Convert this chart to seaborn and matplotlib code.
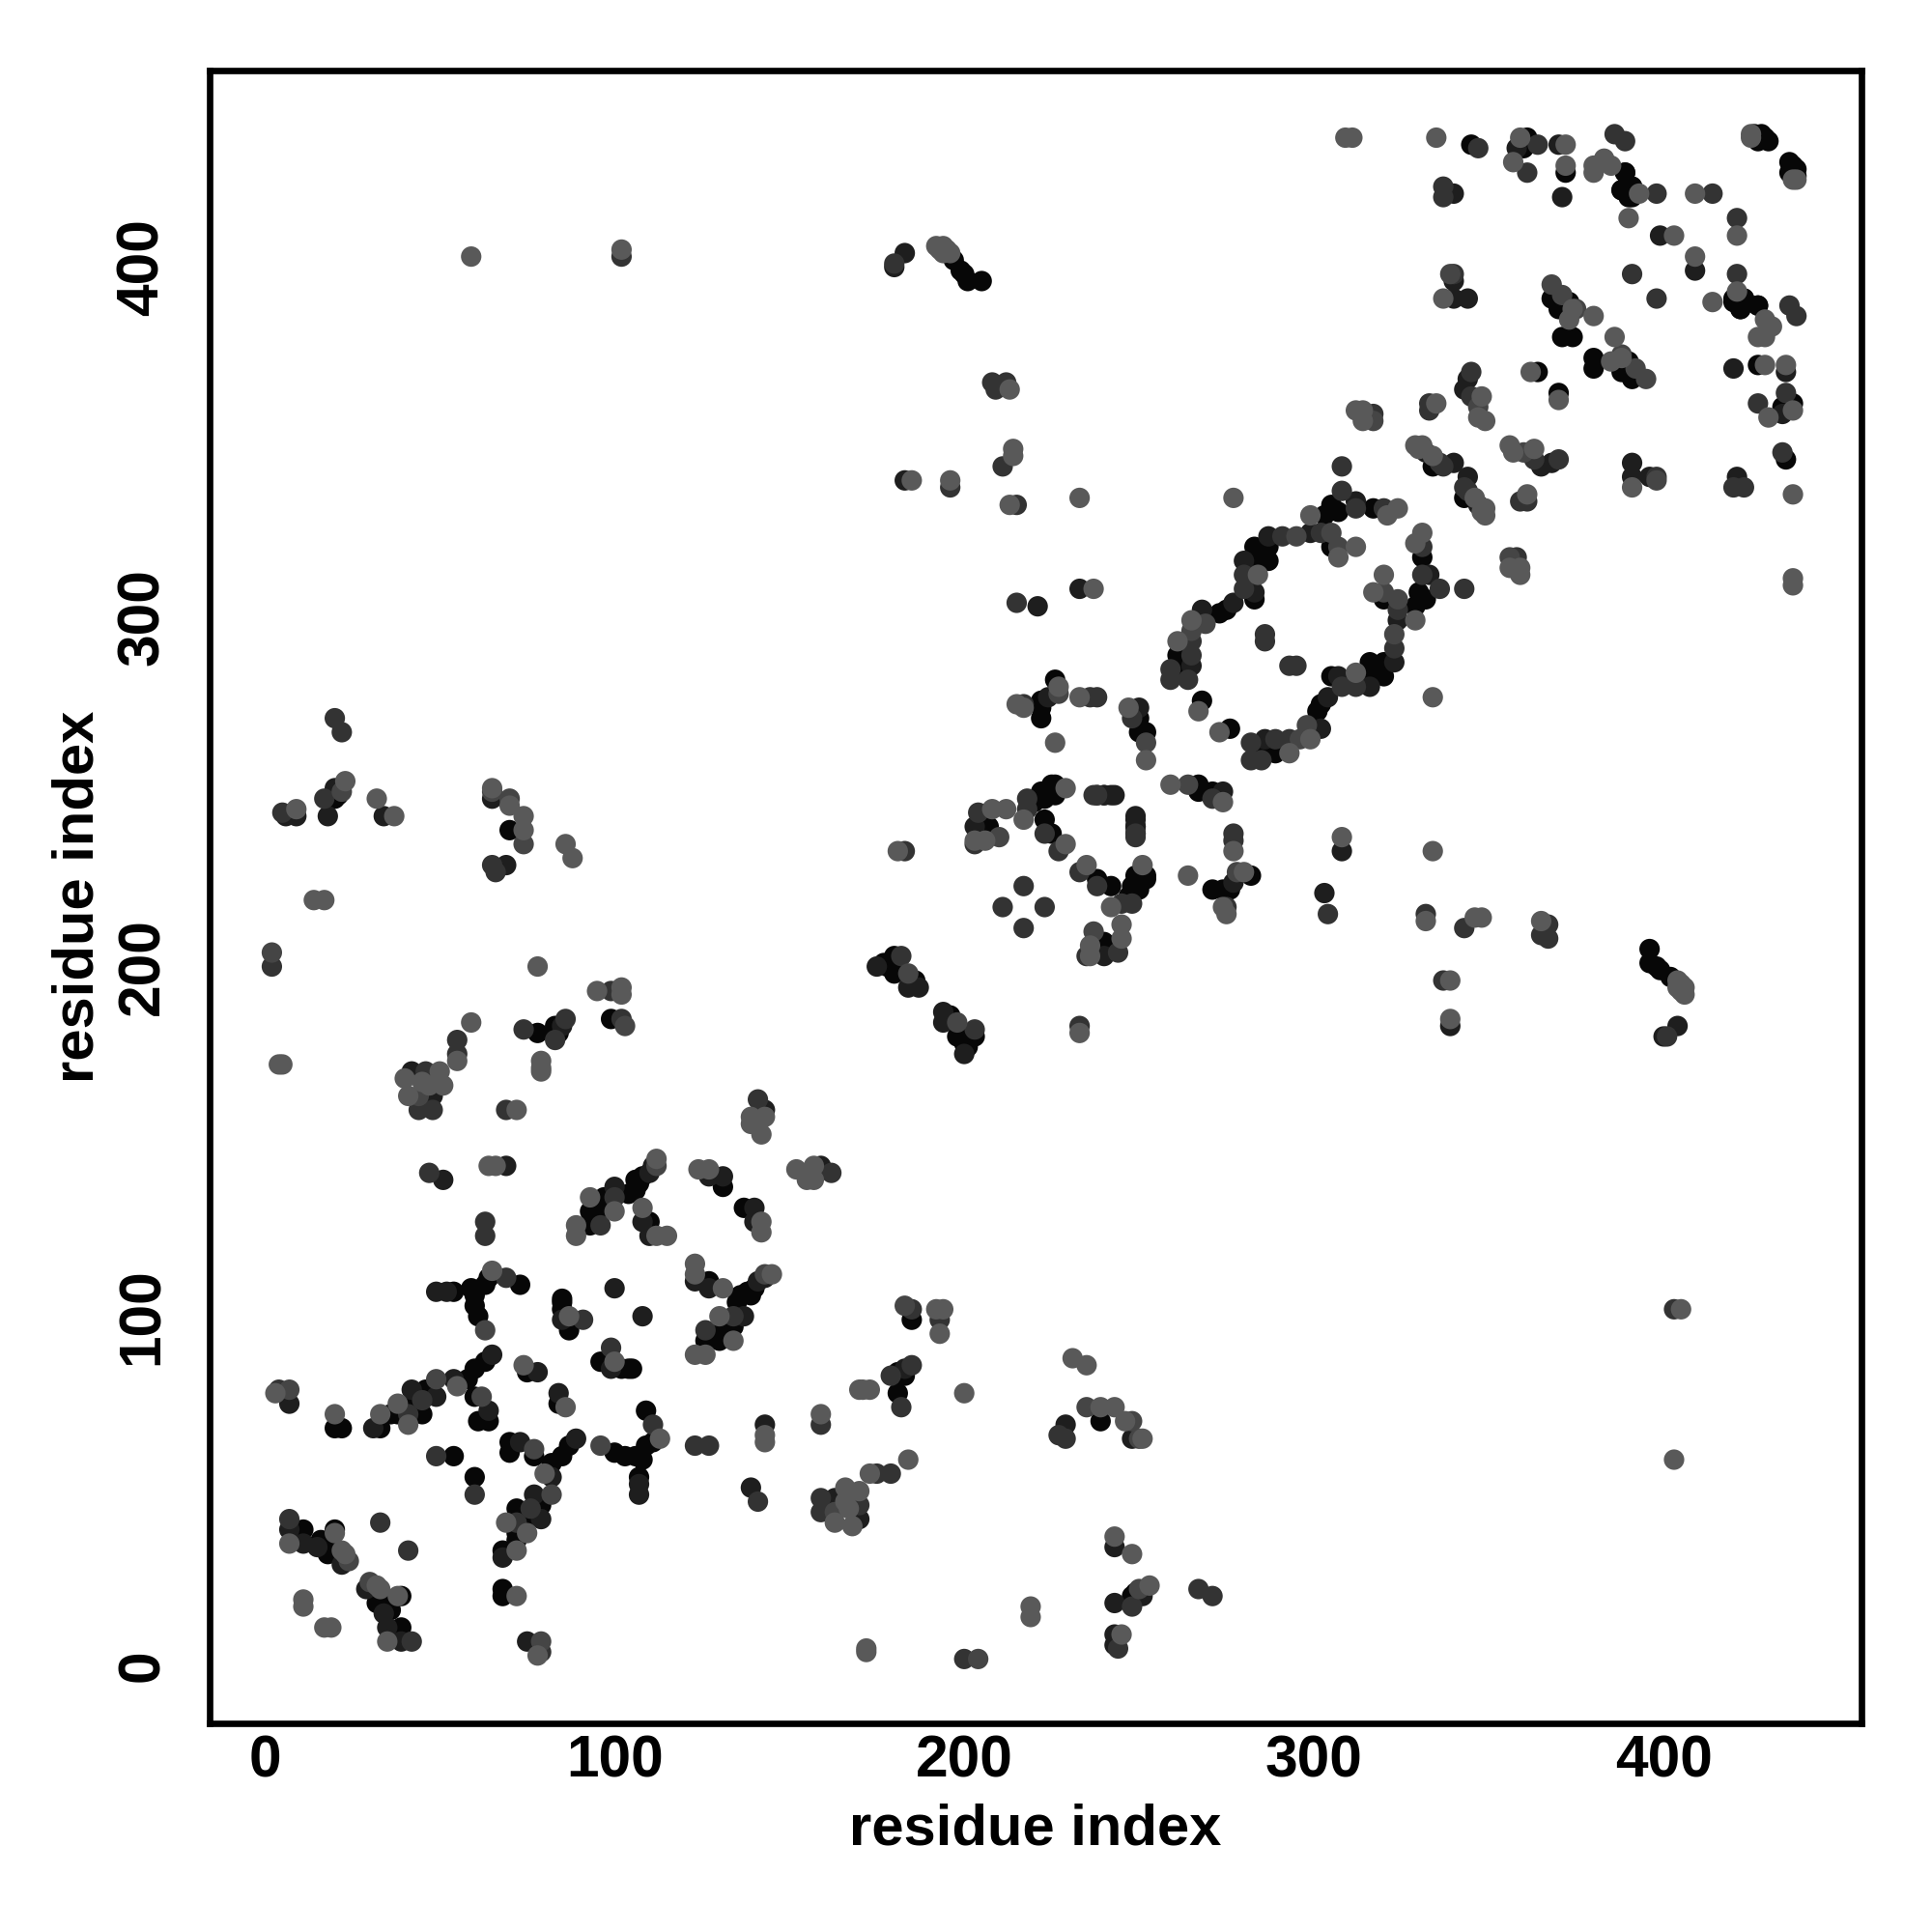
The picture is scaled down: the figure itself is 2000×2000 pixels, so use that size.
"""Residue contact map, symmetric: contacts listed once as (i, j) with i > j."""
import matplotlib
matplotlib.use("Agg")
import matplotlib.pyplot as plt
import pandas as pd
import seaborn as sns

# contact pairs by shade, darkest first (lighter ones get drawn on top)
contacts_black = [
    (39, 20), (34, 19), (32, 18), (36, 16), (39, 11), (68, 33), (68, 22), (68, 20),
    (87, 63), (85, 60), (82, 58), (79, 46), (72, 45), (75, 42), (72, 38), (72, 36),
    (70, 64), (70, 61), (77, 60), (100, 61), (103, 60), (106, 60), (108, 59),
    (109, 63), (111, 64), (107, 54), (109, 73), (96, 87), (104, 85), (105, 85),
    (102, 85), (84, 75), (60, 54), (137, 131), (127, 110), (140, 108), (138, 107),
    (136, 106), (135, 104), (134, 97), (130, 96), (126, 93), (130, 93), (139, 106),
    (133, 98), (185, 99), (181, 84), (183, 83), (181, 78), (239, 70), (249, 21),
    (248, 20), (248, 18), (396, 205), (396, 201), (398, 200), (399, 199), (402, 197),
    (196, 186), (199, 181), (198, 180), (203, 180), (201, 177), (200, 178),
    (238, 225), (242, 223), (252, 226), (249, 224), (248, 223), (247, 220), (240, 207),
    (250, 222), (252, 225), (249, 226), (267, 252), (267, 250), (271, 250), (282, 226),
    (274, 222), (271, 222), (276, 222), (249, 238), (320, 305), (331, 317), (330, 307),
    (332, 305), (329, 303), (320, 287), (316, 287), (320, 283), (316, 283), (305, 283),
    (302, 275), (301, 273), (289, 261), (285, 261), (276, 268), (436, 430), (436, 427),
    (438, 428), (438, 426), (437, 429), (389, 427), (391, 423), (388, 422), (390, 420),
    (420, 391), (423, 391), (427, 389), (422, 388), (390, 372), (390, 373), (388, 370),
    (391, 368), (380, 374), (380, 371), (427, 372), (437, 361), (434, 360), (435, 345),
    (370, 364), (343, 334),
]
contacts_dark = [
    (29, 22), (34, 15), (35, 11), (39, 7), (68, 31), (75, 7), (89, 65), (82, 54),
    (77, 49), (79, 42), (73, 64), (107, 49), (107, 52), (108, 100), (84, 78), (99, 85),
    (140, 131), (140, 127), (123, 110), (127, 108), (141, 110), (143, 111), (137, 100),
    (159, 143), (143, 69), (139, 51), (163, 48), (170, 42), (183, 85), (229, 69),
    (243, 34), (243, 18), (251, 20), (243, 9), (243, 6), (248, 65), (339, 183),
    (404, 183), (400, 180), (194, 187), (194, 184), (200, 175), (249, 242), (243, 249),
    (240, 249), (249, 240), (277, 224), (274, 250), (240, 203), (303, 221), (333, 312),
    (324, 299), (323, 287), (307, 283), (304, 277), (302, 268), (316, 280), (286, 265),
    (308, 233), (420, 371), (434, 358), (421, 340), (391, 344), (391, 340), (435, 370),
    (365, 343), (368, 344), (409, 399), (347, 332), (344, 340), (396, 340),
]
contacts_mid = [
    (41, 33), (42, 7), (79, 4), (76, 45), (72, 41), (111, 69), (99, 91), (60, 49),
    (134, 100), (126, 96), (162, 141), (185, 102), (193, 99), (185, 86), (179, 83),
    (182, 74), (159, 69), (141, 47), (159, 48), (159, 44), (170, 46), (123, 63),
    (127, 63), (175, 55), (179, 55), (229, 65), (227, 66), (200, 2), (248, 17),
    (267, 22), (271, 20), (244, 5), (233, 183), (337, 196), (401, 180), (403, 102),
    (365, 209), (367, 212), (367, 208), (343, 211), (332, 215), (203, 182), (238, 249),
    (249, 237), (275, 217), (277, 238), (277, 236), (233, 227), (238, 223), (248, 218),
    (245, 218), (244, 204), (235, 203), (271, 248), (223, 217), (217, 211), (304, 215),
    (331, 320), (331, 312), (336, 308), (324, 302), (323, 291), (312, 280), (308, 280),
    (293, 265), (289, 265), (285, 259), (282, 264), (282, 259), (343, 308), (295, 286),
    (293, 286), (438, 386), (436, 389), (398, 391), (421, 414), (421, 398), (427, 361),
    (435, 364), (420, 337), (423, 337), (398, 340), (363, 345), (370, 345), (343, 337),
    (361, 333), (359, 333), (358, 317), (344, 336), (434, 347),
]
contacts_soft = [
    (30, 24), (79, 7), (82, 49), (77, 62), (96, 63), (143, 112), (183, 103), (163, 44),
    (204, 2), (250, 22), (248, 70), (250, 65), (235, 74), (198, 184), (264, 252),
    (278, 227), (237, 210), (320, 307), (324, 305), (323, 295), (298, 269), (296, 265),
    (388, 375), (392, 371), (395, 368), (398, 339), (360, 347), (356, 317),
]
contacts_light = [
    (32, 23), (33, 22), (38, 20), (35, 7), (17, 11), (19, 11), (72, 33), (72, 20),
    (78, 3), (80, 55), (69, 41), (75, 38), (113, 65), (100, 87), (86, 74), (142, 127),
    (142, 124), (152, 142), (155, 139), (157, 139), (155, 141), (157, 143), (123, 115),
    (123, 112), (131, 108), (145, 112), (130, 100), (134, 93), (123, 89), (126, 89),
    (192, 102), (194, 102), (193, 95), (170, 79), (173, 79), (171, 79), (200, 78),
    (143, 64), (143, 66), (159, 72), (184, 59), (173, 55), (163, 41), (166, 51),
    (168, 40), (170, 50), (167, 45), (166, 47), (172, 5), (172, 4), (219, 17), (219, 14),
    (231, 88), (235, 86), (239, 74), (243, 74), (243, 37), (248, 32), (253, 23),
    (245, 9), (246, 70), (251, 65), (233, 181), (339, 196), (339, 185), (406, 194),
    (406, 192), (405, 102), (403, 59), (405, 193), (405, 195), (404, 196), (404, 194),
    (365, 213), (346, 214), (348, 214), (332, 213), (277, 233), (280, 227), (275, 215),
    (274, 217), (264, 226), (251, 229), (235, 229), (242, 217), (245, 212), (245, 208),
    (236, 206), (236, 203), (259, 252), (274, 247), (320, 312), (317, 307), (331, 324),
    (329, 321), (329, 299), (312, 284), (299, 265), (293, 261), (273, 267), (334, 277),
    (334, 233), (308, 237), (414, 390), (421, 393), (431, 383), (429, 385), (427, 380),
    (429, 380), (435, 372), (429, 372), (430, 357), (437, 359), (437, 335), (437, 311),
    (437, 309), (421, 409), (409, 403), (391, 337), (386, 380), (385, 373), (388, 374),
    (356, 349), (357, 347), (363, 348), (346, 334), (349, 331), (349, 329), (348, 330),
    (361, 335), (359, 314), (356, 314), (359, 312), (370, 362), (437, 425), (438, 425),
]
shade_levels = [0.03, 0.12, 0.20, 0.27, 0.35]

tick_values = [0, 100, 200, 300, 400]

rows = []
groups = [contacts_black, contacts_dark, contacts_mid, contacts_soft, contacts_light]
for pairs, shade in zip(groups, shade_levels):
    for i, j in pairs:
        rows.append((i, j, shade))
        rows.append((j, i, shade))
df = pd.DataFrame(rows, columns=["x", "y", "shade"])

sns.set_theme(style="white")
plt.rcParams["font.family"] = ["Liberation Sans", "DejaVu Sans"]
plt.rcParams["font.weight"] = "bold"

fig = plt.figure(figsize=(10, 10), dpi=200)
ax = fig.add_axes([217 / 2000, 1 - 1784 / 2000, 1710 / 2000, 1711 / 2000])

sns.scatterplot(data=df, x="x", y="y", hue="shade", palette="gray", hue_norm=(0, 1),
                s=58, linewidth=0, legend=False, ax=ax)

ax.set_xlim(-15.8, 456.6)
ax.set_ylim(-16.4, 456.2)
ax.set_xticks(tick_values)
ax.set_yticks(tick_values)
ax.set_xticklabels(tick_values, fontsize=21.8, fontweight="bold")
ax.set_yticklabels(tick_values, fontsize=21.8, fontweight="bold", rotation=90, va="center")
ax.tick_params(axis="x", length=2.6, width=1.2, color="black", pad=1.5, labelcolor="black")
ax.tick_params(axis="y", length=3.4, width=1.2, color="black", pad=11, labelcolor="black")
ax.set_xlabel("residue index", fontsize=21.5, fontweight="bold", color="black", labelpad=5)
ax.set_ylabel("residue index", fontsize=21.5, fontweight="bold", color="black", labelpad=4)
for spine in ax.spines.values():
    spine.set_linewidth(2.4)
    spine.set_color("black")

fig.savefig("out.png", dpi=200)
